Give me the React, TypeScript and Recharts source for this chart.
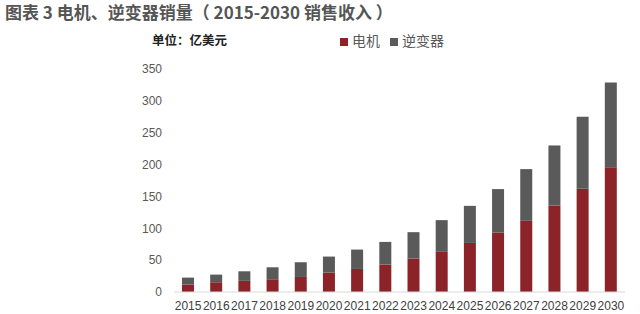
import { Bar, BarChart, Legend, XAxis, YAxis } from "recharts";

const years = [
  "2015", "2016", "2017", "2018", "2019", "2020", "2021", "2022",
  "2023", "2024", "2025", "2026", "2027", "2028", "2029", "2030"
];
const motor = [11.6, 15.3, 17.5, 20, 23.6, 30.5, 36.2, 43, 52.5, 63, 77, 93.3, 111.7, 135.8, 162, 195.6];
const inverter = [11, 12, 15, 18.8, 23.1, 25.1, 30.4, 35.6, 41.4, 49.8, 58.2, 68.2, 81.2, 94.2, 113.2, 133.1];
const yTicks = [0, 50, 100, 150, 200, 250, 300, 350];

const data = years.map((year, i) => ({ year, motor: motor[i], inverter: inverter[i] }));

const font = "'Noto Sans CJK SC', 'Noto Sans', sans-serif";

export default function App() {
  return (
    <div style={{ position: "absolute", left: 0, top: 0, width: 640, height: 314, background: "#fff", fontFamily: font }}>
      <div style={{ position: "absolute", left: 5, top: 2, fontSize: 17, fontWeight: 700, color: "#555", whiteSpace: "nowrap", lineHeight: "20px" }}>
        图表 3 电机、逆变器销量（ 2015-2030 销售收入 ）
      </div>
      <div style={{ position: "absolute", left: 152, top: 31, fontSize: 12.5, fontWeight: 700, color: "#222", whiteSpace: "nowrap", lineHeight: "18px" }}>
        单位：亿美元
      </div>
      <BarChart width={640} height={314} data={data} margin={{ top: 51, right: 15, left: 124, bottom: 0 }}>
        <XAxis
          dataKey="year"
          height={22}
          tickLine={false}
          tickSize={0}
          tickMargin={9}
          axisLine={{ stroke: "#d9d9d9" }}
          tick={{ fill: "#404040", fontSize: 12, fontFamily: "'Liberation Sans', sans-serif" }}
          interval={0}
        />
        <YAxis
          domain={[0, 350]}
          ticks={yTicks}
          width={50}
          tickLine={false}
          tickSize={0}
          tickMargin={12}
          axisLine={false}
          tick={{ fill: "#595959", fontSize: 12, fontFamily: "'Liberation Sans', sans-serif" }}
        />
        <Legend
          verticalAlign="top"
          align="left"
          iconType="square"
          iconSize={8}
          wrapperStyle={{ top: 31, left: 340, width: 120, fontSize: 14, lineHeight: "18px" }}
          formatter={(value) => <span style={{ color: "#595959" }}>{value}</span>}
        />
        <Bar dataKey="motor" name="电机" stackId="a" fill="#8b2328" barSize={12} isAnimationActive={false} />
        <Bar dataKey="inverter" name="逆变器" stackId="a" fill="#5a5a5a" barSize={12} isAnimationActive={false} />
      </BarChart>
    </div>
  );
}
